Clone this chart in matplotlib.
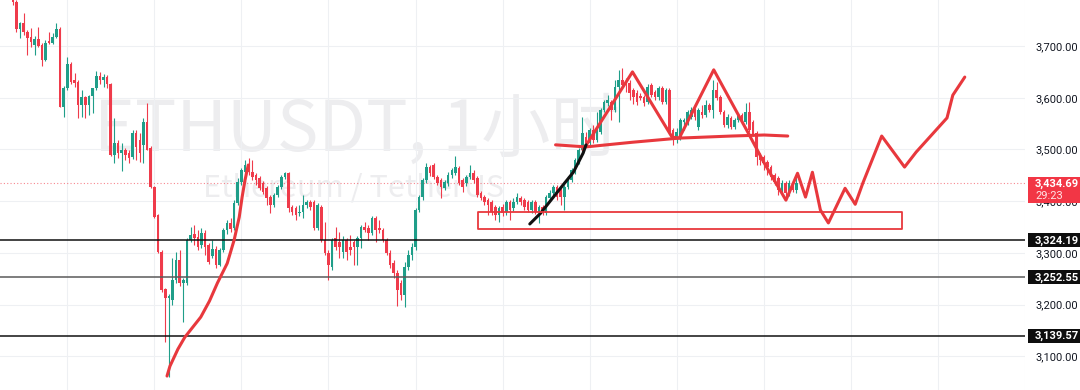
import numpy as np
import matplotlib
matplotlib.use('Agg')
import matplotlib.pyplot as plt
import matplotlib.transforms as mtransforms
from matplotlib.patches import Rectangle

plt.rcParams['font.family'] = ['Roboto', 'DejaVu Sans']

# ETHUSDT 1h candles
opens = [3804, 3785, 3733, 3745, 3727, 3717, 3702, 3714, 3702, 3673,
         3710, 3706, 3717, 3733, 3582, 3619, 3665, 3634, 3630, 3586,
         3601, 3586, 3603, 3619, 3642, 3634, 3640, 3627, 3489, 3512,
         3493, 3499, 3493, 3485, 3532, 3518, 3509, 3553, 3503, 3427,
         3373, 3302, 3230, 3213, 3209, 3247, 3286, 3242, 3242, 3325,
         3336, 3331, 3315, 3338, 3315, 3294, 3307, 3276, 3305, 3344,
         3358, 3348, 3396, 3437, 3456, 3470, 3456, 3450, 3445, 3435,
         3425, 3408, 3393, 3412, 3427, 3447, 3454,
         3389, 3387, 3377, 3379, 3393, 3398, 3398, 3348, 3389, 3325,
         3300, 3273, 3329, 3321, 3302, 3325, 3311, 3321, 3311, 3329,
         3350, 3348, 3338, 3367, 3348, 3344, 3325, 3300, 3280, 3261,
         3242, 3218, 3273, 3296, 3311, 3383, 3408, 3441, 3466, 3470,
         3447, 3441, 3425, 3435, 3450, 3454, 3464, 3441, 3435, 3447,
         3454, 3445, 3416, 3408, 3402, 3398, 3389, 3373, 3389, 3379,
         3398, 3387, 3398, 3406, 3402, 3398, 3383, 3398, 3379, 3389,
         3377, 3406, 3416, 3427, 3422, 3408, 3427, 3441, 3456, 3476,
         3499, 3524, 3512, 3538, 3518, 3534, 3576, 3590, 3592, 3576,
         3621, 3634, 3630, 3628, 3615, 3609, 3603, 3601, 3592, 3625,
         3611, 3601, 3619, 3592, 3615, 3538, 3522, 3524, 3553, 3553,
         3563, 3576, 3543, 3572, 3567, 3586, 3576, 3615, 3601, 3572,
         3547, 3561, 3543, 3557, 3567, 3553, 3572, 3553, 3532, 3489,
         3485, 3476, 3466, 3450, 3445, 3422, 3435, 3416, 3435, 3422]
closes = [3785, 3733, 3745, 3727, 3716, 3708, 3714, 3700, 3673, 3706,
          3706, 3717, 3733, 3582, 3619, 3665, 3630, 3628, 3586, 3601,
          3586, 3603, 3619, 3642, 3634, 3640, 3627, 3489, 3512, 3493,
          3499, 3489, 3483, 3532, 3505, 3493, 3553, 3499, 3427, 3369,
          3302, 3228, 3213, 3217, 3247, 3286, 3242, 3247, 3325, 3334,
          3329, 3311, 3338, 3311, 3282, 3307, 3276, 3305, 3344, 3358,
          3346, 3396, 3437, 3460, 3470, 3456, 3447, 3441, 3425, 3418,
          3406, 3393, 3412, 3427, 3447, 3454, 3387,
          3379, 3373, 3379, 3393, 3398, 3389, 3348, 3393, 3325, 3300,
          3276, 3325, 3311, 3311, 3325, 3302, 3305, 3311, 3329, 3350,
          3344, 3338, 3367, 3344, 3344, 3325, 3300, 3276, 3261, 3228,
          3218, 3273, 3296, 3311, 3383, 3408, 3441, 3466, 3454, 3447,
          3435, 3427, 3437, 3450, 3460, 3466, 3435, 3427, 3447, 3454,
          3441, 3412, 3406, 3398, 3393, 3379, 3373, 3387, 3377, 3398,
          3383, 3398, 3408, 3398, 3389, 3383, 3398, 3379, 3389, 3377,
          3408, 3416, 3427, 3408, 3408, 3427, 3445, 3460, 3480, 3499,
          3532, 3512, 3538, 3518, 3543, 3576, 3592, 3596, 3576, 3621,
          3634, 3625, 3628, 3609, 3601, 3592, 3599, 3590, 3621, 3605,
          3601, 3619, 3592, 3615, 3534, 3522, 3534, 3557, 3557, 3572,
          3576, 3563, 3576, 3567, 3586, 3576, 3615, 3599, 3572, 3547,
          3563, 3543, 3557, 3567, 3553, 3572, 3538, 3530, 3485, 3480,
          3474, 3466, 3447, 3437, 3422, 3435, 3416, 3435, 3422, 3434.69]
highs = [3812, 3789, 3746, 3764, 3731, 3735, 3719, 3737, 3706, 3712,
         3727, 3725, 3745, 3737, 3623, 3679, 3669, 3648, 3634, 3615,
         3603, 3605, 3619, 3652, 3650, 3646, 3644, 3629, 3561, 3518,
         3512, 3503, 3499, 3538, 3538, 3532, 3561, 3590, 3507, 3429,
         3375, 3305, 3232, 3220, 3290, 3302, 3305, 3251, 3329, 3350,
         3354, 3344, 3348, 3344, 3319, 3325, 3313, 3309, 3348, 3363,
         3367, 3402, 3445, 3464, 3480, 3483, 3480, 3454, 3449, 3439,
         3429, 3412, 3416, 3431, 3450, 3456, 3456,
         3393, 3391, 3393, 3412, 3402, 3402, 3402, 3396, 3393, 3360,
         3305, 3329, 3350, 3340, 3333, 3329, 3334, 3325, 3333, 3354,
         3360, 3354, 3371, 3371, 3363, 3348, 3329, 3305, 3286, 3267,
         3247, 3282, 3305, 3319, 3387, 3412, 3445, 3474, 3470, 3474,
         3450, 3445, 3441, 3456, 3464, 3487, 3468, 3445, 3450, 3470,
         3460, 3449, 3420, 3412, 3406, 3402, 3393, 3391, 3394, 3402,
         3402, 3406, 3416, 3410, 3406, 3402, 3402, 3402, 3393, 3393,
         3412, 3422, 3431, 3431, 3425, 3431, 3449, 3464, 3483, 3503,
         3563, 3534, 3541, 3547, 3572, 3580, 3596, 3605, 3596, 3634,
         3654, 3657, 3638, 3634, 3619, 3615, 3609, 3605, 3627, 3628,
         3615, 3623, 3623, 3619, 3619, 3541, 3541, 3561, 3561, 3576,
         3582, 3580, 3580, 3586, 3596, 3590, 3634, 3630, 3605, 3576,
         3569, 3565, 3561, 3570, 3570, 3590, 3592, 3557, 3536, 3493,
         3489, 3480, 3470, 3454, 3449, 3441, 3439, 3441, 3439, 3450]
lows = [3779, 3727, 3716, 3721, 3683, 3698, 3683, 3698, 3661, 3671,
        3704, 3704, 3716, 3582, 3563, 3615, 3627, 3621, 3561, 3563,
        3561, 3567, 3570, 3615, 3627, 3621, 3619, 3487, 3474, 3483,
        3458, 3480, 3474, 3481, 3480, 3476, 3474, 3499, 3425, 3367,
        3300, 3224, 3128, 3060, 3199, 3242, 3236, 3166, 3238, 3321,
        3315, 3305, 3309, 3296, 3278, 3290, 3271, 3274, 3302, 3336,
        3340, 3344, 3393, 3431, 3452, 3450, 3441, 3431, 3422, 3414,
        3393, 3377, 3389, 3408, 3423, 3443, 3379,
        3373, 3363, 3371, 3367, 3387, 3383, 3344, 3344, 3321, 3296,
        3247, 3267, 3305, 3290, 3290, 3286, 3296, 3276, 3276, 3309,
        3340, 3325, 3334, 3321, 3338, 3321, 3296, 3271, 3251, 3197,
        3209, 3195, 3267, 3286, 3305, 3379, 3402, 3435, 3449, 3443,
        3431, 3406, 3422, 3429, 3445, 3450, 3431, 3418, 3429, 3443,
        3435, 3408, 3402, 3393, 3373, 3373, 3363, 3360, 3371, 3373,
        3363, 3381, 3394, 3393, 3383, 3379, 3377, 3375, 3358, 3373,
        3373, 3402, 3412, 3402, 3393, 3383, 3423, 3437, 3452, 3472,
        3495, 3507, 3507, 3512, 3514, 3530, 3572, 3584, 3557, 3572,
        3553, 3619, 3611, 3596, 3588, 3586, 3596, 3584, 3588, 3601,
        3596, 3596, 3588, 3588, 3530, 3509, 3512, 3518, 3538, 3547,
        3559, 3557, 3538, 3561, 3563, 3572, 3561, 3596, 3568, 3543,
        3541, 3539, 3539, 3553, 3549, 3549, 3534, 3526, 3470, 3470,
        3460, 3451, 3441, 3431, 3412, 3416, 3410, 3410, 3418, 3416]

# drawn levels (black horizontal lines)
levels = [3324.19, 3252.55, 3139.57]
level_colors = ['#111111', '#5a5a5a', '#111111']
y_ticks = [3100, 3200, 3300, 3400, 3500, 3600, 3700]

# hand drawn annotations, in (bar index, price)
rally_x = [42.5, 43.3, 45.5, 47.4, 51.8, 54.2, 56.4, 59.1, 61.0, 62.4, 63.2, 64.0, 64.9]
rally_y = [3062, 3081, 3114, 3137, 3176, 3207, 3242, 3280, 3325, 3369, 3408, 3441, 3470]
trend_x = [142.5, 145.5, 149.9, 154.5, 157.2, 158.0]
trend_y = [3356, 3377, 3416, 3456, 3493, 3509]
neck_x = [149.6, 158.0, 170.8, 183.7, 198.1, 207.1, 213.6]
neck_y = [3509, 3505, 3514, 3522, 3526, 3528, 3526]
path_x = [157.2, 170.8, 181.7, 183.7, 193.2, 202.7, 207.1, 213.1, 216.3, 218.5, 220.4,
          222.6, 224.8, 229.4, 232.2, 234.3, 239.5, 245.8, 249.0, 257.5, 259.1, 262.4]
path_y = [3499, 3650, 3524, 3522, 3654, 3532, 3474, 3402, 3454, 3408, 3456,
          3383, 3358, 3425, 3394, 3435, 3526, 3466, 3495, 3561, 3605, 3640]
zone_x = [128.3, 245.2]
zone_y = [3346, 3379]

UP = '#1f9e89'
DOWN = '#ef3b4b'
ANNO = '#e8383d'

o = np.array(opens, float)
c = np.array(closes, float)
h = np.array(highs, float)
l = np.array(lows, float)
x = np.arange(len(c))
cols = np.where(c >= o, UP, DOWN)

fig = plt.figure(figsize=(10.8, 3.9), dpi=100)
ax = fig.add_axes([0, 0, 1025 / 1080, 1])
ax.set_xlim(-3.54, 275.75)
ax.set_ylim(3035, 3789)

# watermark
ax.text(0.348, 0.665, 'ETHUSDT, 1小时', transform=ax.transAxes, ha='center', va='center',
        fontsize=50, color='#ededef', family=['Noto Sans CJK SC', 'DejaVu Sans'], zorder=0.2)
ax.text(0.345, 0.517, 'Ethereum / TetherUS', transform=ax.transAxes, ha='center', va='center',
        fontsize=22, color='#ededef', family=['Noto Sans CJK SC', 'DejaVu Sans'], zorder=0.2)

# candles
ax.vlines(x, np.minimum(l, np.minimum(o, c)), np.maximum(h, np.maximum(o, c)),
          colors=cols, lw=0.8, zorder=3)
ax.bar(x, np.maximum(np.abs(c - o), 1.6), bottom=np.minimum(o, c), width=0.72,
       color=cols, lw=0, zorder=3)

# levels
for lv, lc in zip(levels, level_colors):
    ax.axhline(lv, color=lc, lw=1.1, zorder=4)
ax.axhline(c[-1], color='#f23645', lw=0.8, ls=(0, (1, 2)), alpha=0.6, zorder=2)

# annotations
kw = dict(color=ANNO, lw=2.2, solid_capstyle='round', solid_joinstyle='round', zorder=6)
ax.plot(rally_x, rally_y, **kw)
ax.plot(neck_x, neck_y, **kw)
ax.plot(path_x, path_y, **kw)
ax.plot(trend_x, trend_y, color='#111111', lw=2.2, solid_capstyle='round', zorder=6)
ax.add_patch(Rectangle((zone_x[0], zone_y[0]), zone_x[1] - zone_x[0], zone_y[1] - zone_y[0],
                       fill=False, edgecolor=ANNO, lw=1.3, joinstyle='round', zorder=6))

# axes styling
ax.yaxis.tick_right()
ax.set_yticks(y_ticks)
ax.set_yticklabels([f'{v:,.2f}' for v in y_ticks])
ax.set_xticks(np.arange(15, 280, 24))
ax.set_xticklabels([])
ax.tick_params(axis='both', length=0)
ax.tick_params(axis='y', pad=7.5, labelsize=8, labelcolor='#131722')
ax.grid(True, color='#eef0f3', lw=0.8)
ax.set_axisbelow(True)
for s in ax.spines.values():
    s.set_visible(False)

# price labels on the right scale
tr = mtransforms.blended_transform_factory(fig.transFigure, ax.transData)
for lv in levels:
    ax.add_patch(Rectangle((1028 / 1080, lv - 13.5), 52 / 1080, 27, transform=tr,
                           facecolor='#0e0e0e', edgecolor='none', clip_on=False, zorder=10))
    ax.text(1035 / 1080, lv, f'{lv:,.2f}', transform=tr, ha='left', va='center',
            color='white', fontsize=8, fontweight='bold', clip_on=False, zorder=11)
ax.add_patch(Rectangle((1028 / 1080, c[-1] - 38.3), 52 / 1080, 50.3, transform=tr,
                       facecolor='#f23645', edgecolor='none', clip_on=False, zorder=10))
ax.text(1035 / 1080, c[-1] - 1.5, f'{c[-1]:,.2f}', transform=tr, ha='left', va='center',
        color='white', fontsize=8, fontweight='bold', clip_on=False, zorder=11)
ax.text(1035 / 1080, c[-1] - 24, '29:23', transform=tr, ha='left', va='center',
        color='#ffe3e5', fontsize=8, clip_on=False, zorder=11)

fig.savefig('out.png', dpi=100)
